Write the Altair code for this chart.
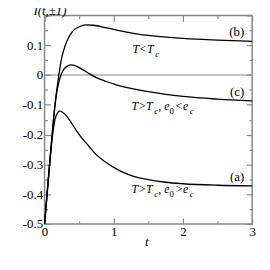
import altair as alt
import pandas as pd

# ---- data ----
t_a = [0, 0.05, 0.1, 0.15, 0.19, 0.22, 0.26, 0.3, 0.4, 0.5, 0.64, 0.75, 0.88, 1.0, 1.12, 1.3, 1.5, 1.75, 2.0, 2.5, 3.0]
i_a = [-0.5, -0.365, -0.235, -0.15, -0.126, -0.121, -0.125, -0.133, -0.165, -0.2, -0.239, -0.268, -0.292, -0.31, -0.325, -0.341, -0.351, -0.36, -0.365, -0.37, -0.372]

t_b = [0, 0.05, 0.1, 0.15, 0.2, 0.25, 0.3, 0.35, 0.4, 0.5, 0.6, 0.7, 0.9, 1.1, 1.3, 1.5, 2.0, 2.5, 3.0]
i_b = [-0.5, -0.36, -0.225, -0.1, -0.01, 0.06, 0.1, 0.127, 0.145, 0.162, 0.168, 0.167, 0.158, 0.148, 0.139, 0.133, 0.123, 0.117, 0.113]

t_c = [0, 0.05, 0.1, 0.15, 0.2, 0.25, 0.3, 0.38, 0.45, 0.55, 0.65, 0.75, 0.88, 1.0, 1.1, 1.3, 1.5, 1.75, 2.0, 2.5, 3.0]
i_c = [-0.5, -0.36, -0.225, -0.105, -0.03, 0.008, 0.025, 0.034, 0.031, 0.018, 0.004, -0.009, -0.021, -0.03, -0.037, -0.047, -0.056, -0.065, -0.072, -0.081, -0.087]

x_label_values = [0, 1, 2, 3]
x_tick_values = [0, 0.5, 1, 1.5, 2, 2.5, 3]
y_label_values = [-0.5, -0.4, -0.3, -0.2, -0.1, 0, 0.1]
y_tick_values = [-0.5, -0.45, -0.4, -0.35, -0.3, -0.25, -0.2, -0.15, -0.1, -0.05, 0, 0.05, 0.1, 0.15, 0.2]

curve_names = ["(a)", "(b)", "(c)"]

rows = []
for name, ts, vs in [("(a)", t_a, i_a), ("(b)", t_b, i_b), ("(c)", t_c, i_c)]:
    for t, v in zip(ts, vs):
        rows.append({"t": t, "I": v, "curve": name})
df = pd.DataFrame(rows)

W, H = 210, 211
FONT = "Liberation Serif, Times New Roman, serif"
GRAY = "#888888"
xs = alt.Scale(domain=[0, 3], nice=False, zero=False)
ys = alt.Scale(domain=[-0.5, 0.2], nice=False, zero=False)

x_major = "abs(datum.value - round(datum.value)) < 1e-6"
y_major = "abs(datum.value * 10 - round(datum.value * 10)) < 1e-6"

def tick_axis(orient, offset, values, major_test):
    return alt.Axis(orient=orient, offset=offset, values=values, labels=False, domain=False,
                    title=None, grid=False, ticks=True, tickColor=GRAY, tickWidth=1.2,
                    tickSize={"condition": {"test": major_test, "value": 6}, "value": 3})

# main lines with labelled axes
lines = alt.Chart(df).mark_line(interpolate="monotone", strokeWidth=1.3).encode(
    x=alt.X("t:Q", scale=xs, axis=alt.Axis(
        orient="bottom", values=x_label_values, ticks=False, domain=False, grid=False,
        labelFont=FONT, labelFontSize=13, labelColor="black", labelPadding=2,
        labelFlush=False, labelOverlap=False,
        title="t", titleFont=FONT, titleFontSize=13, titleFontStyle="italic",
        titleFontWeight="normal", titleColor="black", titleX=103, titleY=22,
        titleAlign="center", titleBaseline="alphabetic")),
    y=alt.Y("I:Q", scale=ys, axis=alt.Axis(
        orient="left", values=y_label_values, ticks=False, domain=False, grid=False,
        labelFont=FONT, labelFontSize=13, labelColor="black", labelPadding=2,
        labelFlush=False, labelOverlap=False,
        labelExpr="datum.value == 0 ? '0' : (datum.value < 0 ? '-' : '') + format(abs(datum.value), '.1f')",
        title="I(t,±1)", titleFont=FONT, titleFontSize=13, titleFontStyle="italic",
        titleFontWeight="normal", titleColor="black", titleAngle=0, titleX=5, titleY=-1,
        titleAlign="center", titleBaseline="alphabetic")),
    color=alt.Color("curve:N", scale=alt.Scale(domain=curve_names, range=["black"] * 3), legend=None),
    detail="curve:N",
)

# inward ticks at bottom and left
ticks1 = alt.Chart(df).mark_point(opacity=0).encode(
    x=alt.X("t:Q", scale=xs, axis=tick_axis("top", -H, x_tick_values, x_major)),
    y=alt.Y("I:Q", scale=ys, axis=tick_axis("right", -W, y_tick_values, y_major)),
)
# inward ticks at top and right
ticks2 = alt.Chart(df).mark_point(opacity=0).encode(
    x=alt.X("t:Q", scale=xs, axis=tick_axis("bottom", -H, x_tick_values, x_major)),
    y=alt.Y("I:Q", scale=ys, axis=tick_axis("left", -W, y_tick_values, y_major)),
)

zero = alt.Chart(pd.DataFrame({"I": [0]})).mark_rule(color=GRAY, strokeWidth=1.2).encode(
    y=alt.Y("I:Q", scale=ys, axis=None))

# curve labels
lab_df = pd.DataFrame({"t": [2.886, 2.886, 2.886], "I": [-0.341, 0.1436, -0.0588], "txt": curve_names})
labels = alt.Chart(lab_df).mark_text(align="right", baseline="middle", font=FONT, fontSize=13,
                                     color="black").encode(
    x=alt.X("t:Q", scale=xs, axis=None), y=alt.Y("I:Q", scale=ys, axis=None), text="txt:N")

# condition annotations (anchor in data coords, segments with pixel offsets)
annotations = [
    ((1.271, 0.075), [("T<T", 0, 0, 12), ("c", 23, 4, 9)]),
    ((1.257, -0.118), [("T>T", 0, 0, 12), ("c", 23, 4, 9), (",", 27, 0, 12), ("e", 33, 0, 12),
                       ("0", 38.5, 4, 9), ("<e", 44, 0, 12), ("c", 59, 4, 9)]),
    ((1.257, -0.397), [("T>T", 0, 0, 12), ("c", 23, 4, 9), (",", 27, 0, 12), ("e", 33, 0, 12),
                       ("0", 38.5, 4, 9), (">e", 44, 0, 12), ("c", 59, 4, 9)]),
]
ann_layers = []
for (at, av), segs in annotations:
    adf = pd.DataFrame({"t": [at], "I": [av]})
    for txt, dx, dy, size in segs:
        style = "normal" if txt in ("0", ",") else "italic"
        ann_layers.append(
            alt.Chart(adf).mark_text(align="left", baseline="alphabetic", dx=dx, dy=dy, font=FONT,
                                     fontSize=size, fontStyle=style, color="black").encode(
                x=alt.X("t:Q", scale=xs, axis=None), y=alt.Y("I:Q", scale=ys, axis=None),
                text=alt.value(txt)))

chart = alt.layer(zero, ticks1, ticks2, lines, labels, *ann_layers).resolve_axis(
    x="independent", y="independent"
).properties(
    width=W, height=H,
    autosize=alt.AutoSizeParams(type="none"),
    padding={"left": 37, "top": 6, "right": 10, "bottom": 40},
    background="white",
).configure_view(stroke=GRAY, strokeWidth=1.5)

chart.save("out.html", embed_options={"renderer": "svg", "actions": False})
